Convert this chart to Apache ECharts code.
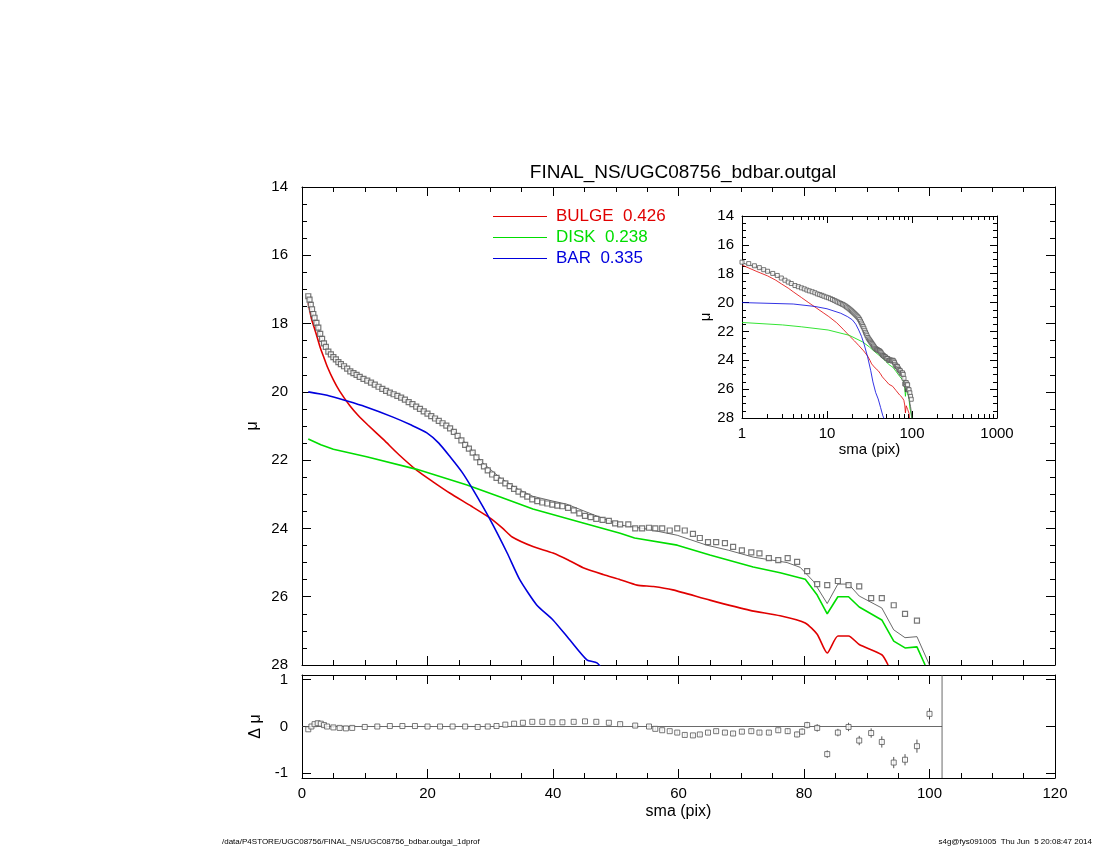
<!DOCTYPE html>
<html><head><meta charset="utf-8">
<script src="https://cdn.jsdelivr.net/npm/echarts@6/dist/echarts.min.js"></script>
<style>html,body{margin:0;padding:0;background:#fff}#c{width:1100px;height:850px}</style>
</head><body><div id="c"></div>
<script>
const dataPts = [[1.0,17.2],[1.2,17.3],[1.4,17.45],[1.6,17.58],[1.8,17.72],[2.0,17.83],[2.3,17.98],[2.6,18.12],[2.9,18.3],[3.2,18.45],[3.5,18.58],[3.8,18.68],[4.2,18.82],[4.6,18.9],[5.0,18.98],[5.4,19.05],[5.8,19.13],[6.2,19.19],[6.7,19.25],[7.2,19.32],[7.7,19.4],[8.2,19.45],[8.7,19.5],[9.2,19.56],[9.8,19.62],[10.4,19.67],[11.0,19.73],[11.6,19.79],[12.2,19.85],[12.8,19.91],[13.4,19.97],[14.0,20.02],[14.6,20.07],[15.2,20.12],[15.8,20.17],[16.4,20.23],[17.0,20.3],[17.6,20.36],[18.2,20.43],[18.8,20.5],[19.4,20.57],[20.0,20.64],[20.6,20.71],[21.2,20.78],[21.8,20.85],[22.4,20.92],[23.0,20.99],[23.6,21.07],[24.2,21.17],[24.8,21.29],[25.4,21.42],[26.0,21.55],[26.6,21.66],[27.2,21.78],[27.8,21.92],[28.4,22.06],[29.0,22.18],[29.6,22.3],[30.3,22.42],[31.0,22.52],[31.7,22.6],[32.4,22.68],[33.1,22.76],[33.8,22.84],[34.5,22.92],[35.2,23.0],[35.9,23.07],[36.7,23.15],[37.5,23.2],[38.3,23.24],[39.1,23.27],[39.9,23.3],[40.7,23.33],[41.5,23.35],[42.4,23.4],[43.3,23.47],[44.2,23.56],[45.1,23.63],[46.0,23.67],[46.9,23.72],[47.9,23.75],[48.9,23.78],[49.9,23.85],[50.7,23.88],[52.0,23.88],[53.1,24.0],[54.2,24.0],[55.3,23.98],[56.3,24.0],[57.4,24.0],[58.6,24.06],[59.8,24.0],[61.0,24.06],[62.3,24.16],[63.4,24.28],[64.7,24.4],[66.0,24.4],[67.4,24.43],[68.7,24.54],[70.1,24.64],[71.6,24.7],[72.9,24.73],[74.4,24.87],[75.9,24.93],[77.4,24.87],[78.9,24.98],[80.5,25.25],[82.1,25.63],[83.7,25.66],[85.4,25.54],[87.1,25.66],[88.8,25.7],[90.7,26.04],[92.4,26.04],[94.3,26.25],[96.1,26.5],[98.0,26.7]];
const modelLine = [[1.0,17.25],[1.5,17.55],[2.0,17.85],[2.9,18.3],[4.0,18.75],[5.0,18.98],[6.5,19.22],[8.0,19.43],[10.3,19.65],[13.0,19.93],[15.6,20.15],[18.0,20.41],[20.9,20.74],[23.6,21.04],[26.3,21.55],[28.8,22.08],[31.6,22.52],[34.3,22.84],[36.8,23.06],[40.0,23.2],[42.2,23.29],[45.9,23.56],[50.7,23.9],[55.0,24.02],[59.8,24.2],[64.5,24.49],[68.0,24.64],[71.9,24.84],[77.3,25.0],[79.4,25.14],[81.5,25.55],[83.7,26.2],[85.4,25.63],[87.1,25.63],[88.8,25.98],[92.4,26.33],[94.3,26.97],[96.1,27.2],[98.0,27.17],[100.0,28.0]];
const bulge = [[1.0,17.4],[1.5,17.85],[2.0,18.15],[2.5,18.45],[2.9,18.7],[3.5,19.0],[4.0,19.25],[5.0,19.65],[6.0,19.98],[7.6,20.4],[9.0,20.7],[10.5,20.97],[13.0,21.4],[15.5,21.85],[18.3,22.3],[21.0,22.65],[23.6,22.97],[27.0,23.35],[30.0,23.7],[32.0,24.0],[33.5,24.25],[36.8,24.53],[40.0,24.72],[42.5,24.93],[44.8,25.15],[48.0,25.35],[50.7,25.5],[53.4,25.66],[56.0,25.7],[59.1,25.8],[65.0,26.1],[71.4,26.4],[76.2,26.56],[80.2,26.77],[82.1,27.1],[83.7,27.65],[85.4,27.15],[87.1,27.15],[88.8,27.4],[92.4,27.7],[93.4,28.0]];
const disk = [[1.0,21.38],[3.0,21.55],[5.0,21.68],[10.3,21.9],[18.3,22.27],[26.3,22.73],[31.6,23.08],[36.8,23.43],[44.8,23.84],[50.7,24.14],[53.0,24.28],[59.8,24.49],[65.0,24.78],[71.9,25.13],[76.2,25.3],[80.2,25.49],[82.1,25.95],[83.7,26.5],[85.4,26.0],[87.1,26.0],[88.8,26.3],[92.4,26.68],[94.3,27.3],[96.1,27.5],[98.0,27.47],[99.3,28.0]];
const bar = [[1.0,20.0],[4.0,20.1],[7.2,20.27],[10.0,20.43],[14.5,20.74],[17.5,20.98],[19.9,21.2],[21.8,21.5],[23.6,21.9],[25.5,22.35],[27.3,22.88],[30.0,23.75],[32.7,24.72],[34.7,25.5],[37.4,26.24],[40.0,26.68],[42.7,27.27],[45.4,27.85],[47.0,27.94],[48.2,28.2]];
const resid = [[1.0,-0.06],[1.5,0.0],[2.0,0.05],[2.5,0.07],[3.0,0.06],[3.5,0.03],[4.0,0.0],[5.0,-0.02],[6.0,-0.03],[7.0,-0.04],[8.0,-0.03],[10.0,-0.01],[12.0,0.0],[14.0,0.01],[16.0,0.01],[18.0,0.01],[20.0,0.0],[22.0,0.0],[24.0,0.0],[26.0,0.0],[28.0,-0.01],[29.6,0.0],[31.0,0.01],[32.4,0.04],[33.8,0.06],[35.2,0.08],[36.7,0.1],[38.3,0.1],[39.9,0.09],[41.5,0.09],[43.3,0.1],[45.1,0.11],[46.9,0.1],[48.9,0.08],[50.7,0.05],[53.1,0.02],[55.3,0.0],[56.3,-0.05],[57.4,-0.08],[58.6,-0.1],[59.8,-0.13],[61.0,-0.18],[62.3,-0.19],[63.4,-0.17],[64.7,-0.13],[66.0,-0.1],[67.4,-0.13],[68.7,-0.15],[70.1,-0.11],[71.6,-0.1],[72.9,-0.13],[74.4,-0.13],[75.9,-0.08],[77.4,-0.1],[78.9,-0.17],[79.7,-0.11],[80.5,0.03],[82.1,-0.03],[83.7,-0.59],[85.4,-0.13],[87.1,-0.01],[88.8,-0.3],[90.7,-0.14],[92.4,-0.33],[94.3,-0.77],[96.1,-0.71],[98.0,-0.42],[100.0,0.27]];
const residErr = [0.01,0.01,0.01,0.01,0.01,0.01,0.01,0.01,0.01,0.01,0.01,0.01,0.01,0.01,0.01,0.01,0.01,0.01,0.01,0.01,0.01,0.01,0.01,0.02,0.02,0.02,0.02,0.02,0.02,0.02,0.02,0.02,0.02,0.02,0.03,0.03,0.03,0.03,0.03,0.03,0.04,0.04,0.04,0.04,0.04,0.04,0.04,0.05,0.05,0.05,0.05,0.05,0.05,0.06,0.06,0.07,0.07,0.08,0.08,0.08,0.09,0.1,0.1,0.12,0.12,0.12,0.14,0.12];
const titleText = 'FINAL_NS/UGC08756_bdbar.outgal';
const legendNames = ['BULGE  0.426','DISK  0.238','BAR  0.335'];

const axC = '#000';
const font='Liberation Sans';
function ax(extra){
  const base={axisLine:{show:true,onZero:false,lineStyle:{color:axC,width:1}},axisTick:{inside:true,length:9,lineStyle:{color:axC}},minorTick:{show:true,splitNumber:4,length:5,lineStyle:{color:axC}},splitLine:{show:false},axisLabel:{color:'#000',fontSize:15,fontFamily:font}};
  const o=Object.assign(base,extra);
  o.axisTick=Object.assign({inside:true,length:9,lineStyle:{color:axC}},extra.axisTick||{});
  return o;
}
const noLab = {show:false};
const chart = echarts.init(document.getElementById('c'));
chart.setOption({
  animation:false,
  title:{text:titleText,left:678,top:158,textAlign:'center',textStyle:{fontSize:19,fontWeight:'normal',color:'#000',fontFamily:font}},
  legend:{left:488,top:203,orient:'vertical',itemGap:4,itemWidth:54,itemHeight:14,icon:'path://M0,7L54,7L54,8L0,8Z',
    data:[{name:legendNames[0],textStyle:{color:'#e00000'}},{name:legendNames[1],textStyle:{color:'#00dd00'}},{name:legendNames[2],textStyle:{color:'#0000dd'}}],
    textStyle:{fontSize:17,fontFamily:font,padding:[0,0,0,4]}},
  graphic:[
    {type:'text',left:222,top:838,style:{text:'/data/P4STORE/UGC08756/FINAL_NS/UGC08756_bdbar.outgal_1dprof',fontSize:8,fontFamily:font,fill:'#000'}},
    {type:'text',right:8,top:838,style:{text:'s4g@fys091005  Thu Jun  5 20:08:47 2014',fontSize:8,fontFamily:font,fill:'#000'}}
  ],
  grid:[
    {left:302,right:45,top:187,height:478},
    {left:302,right:45,top:675,height:103},
    {left:742,right:103,top:216,height:202}
  ],
  xAxis:[
    ax({gridIndex:0,type:'value',min:0,max:120,interval:20,axisLabel:noLab}),
    ax({gridIndex:0,type:'value',min:0,max:120,interval:20,position:'top',axisLabel:noLab}),
    ax({gridIndex:1,type:'value',min:0,max:120,interval:20,name:'sma (pix)',nameLocation:'middle',nameGap:26,nameTextStyle:{fontSize:16,fontFamily:font,color:'#000'}}),
    ax({gridIndex:1,type:'value',min:0,max:120,interval:20,position:'top',axisLabel:noLab}),
    ax({gridIndex:2,type:'log',min:1,max:1000,logBase:10,name:'sma (pix)',nameLocation:'middle',nameGap:24,nameTextStyle:{fontSize:15,fontFamily:font,color:'#000'},axisTick:{length:7},minorTick:{show:true,splitNumber:9,length:4,lineStyle:{color:axC}},axisLabel:{fontSize:15,fontFamily:font,color:'#000',formatter:v=>String(Math.round(v))}}),
    ax({gridIndex:2,type:'log',min:1,max:1000,logBase:10,position:'top',axisLabel:noLab,axisTick:{length:7},minorTick:{show:true,splitNumber:9,length:4,lineStyle:{color:axC}}})
  ],
  yAxis:[
    ax({gridIndex:0,type:'value',min:14,max:28,interval:2,inverse:true,name:'μ',nameLocation:'middle',nameGap:38,nameRotate:90,nameTextStyle:{fontSize:16,fontFamily:font,color:'#000'},axisLabel:{margin:14,fontSize:15,fontFamily:font,color:'#000'}}),
    ax({gridIndex:0,type:'value',min:14,max:28,interval:2,inverse:true,position:'right',axisLabel:noLab}),
    ax({gridIndex:1,type:'value',min:-1.1,max:1.1,axisTick:{customValues:[-1,0,1]},minorTick:{show:false},axisLabel:{customValues:[-1,0,1],margin:14,fontSize:15,fontFamily:font,color:'#000'},name:'Δ μ',nameLocation:'middle',nameGap:34,nameRotate:90,nameTextStyle:{fontSize:16,fontFamily:font,color:'#000'}}),
    ax({gridIndex:1,type:'value',min:-1.1,max:1.1,position:'right',axisLabel:noLab,axisTick:{customValues:[-1,0,1]},minorTick:{show:false}}),
    ax({gridIndex:2,type:'value',min:14,max:28,interval:2,inverse:true,name:'μ',nameLocation:'middle',nameGap:26,nameRotate:90,nameTextStyle:{fontSize:15,fontFamily:font,color:'#000'},minorTick:{show:true,splitNumber:4,length:4,lineStyle:{color:axC}},axisTick:{length:7},axisLabel:{margin:8,fontSize:15,fontFamily:font,color:'#000'}}),
    ax({gridIndex:2,type:'value',min:14,max:28,interval:2,inverse:true,position:'right',axisLabel:noLab,minorTick:{show:true,splitNumber:4,length:4,lineStyle:{color:axC}},axisTick:{length:7}})
  ],
  series:[
    {type:'line',name:legendNames[0],xAxisIndex:0,yAxisIndex:0,data:bulge,showSymbol:false,smooth:0.2,lineStyle:{color:'#e00000',width:1.6},itemStyle:{color:'#e00000'},clip:true,z:3},
    {type:'line',name:legendNames[1],xAxisIndex:0,yAxisIndex:0,data:disk,showSymbol:false,lineStyle:{color:'#00dd00',width:1.6},itemStyle:{color:'#00dd00'},clip:true,z:3},
    {type:'line',name:legendNames[2],xAxisIndex:0,yAxisIndex:0,data:bar,showSymbol:false,smooth:0.2,lineStyle:{color:'#0000dd',width:1.6},itemStyle:{color:'#0000dd'},clip:true,z:3},
    {type:'line',name:'model',xAxisIndex:0,yAxisIndex:0,data:modelLine,showSymbol:false,lineStyle:{color:'#444',width:0.8},clip:true,z:4},
    {type:'scatter',name:'data',xAxisIndex:0,yAxisIndex:0,data:dataPts,symbol:'rect',symbolSize:5,itemStyle:{color:'#fff',borderColor:'#555',borderWidth:1.2},z:5},
    {type:'custom',name:'err',xAxisIndex:2,yAxisIndex:2,data:resid.map((p,i)=>[p[0],p[1],residErr[i]]),
      renderItem:function(params,api){const x=api.value(0),y=api.value(1),e=api.value(2);const a=api.coord([x,y-e]),b=api.coord([x,y+e]);return {type:'line',shape:{x1:a[0],y1:a[1],x2:b[0],y2:b[1]},style:{stroke:'#555',lineWidth:1}};},z:4},
    {type:'line',name:'zero',xAxisIndex:2,yAxisIndex:2,data:[[0,0],[102,0]],showSymbol:false,lineStyle:{color:'#444',width:0.8},z:3},
    {type:'line',name:'vline',xAxisIndex:2,yAxisIndex:2,data:[[102,-1.1],[102,1.1]],showSymbol:false,lineStyle:{color:'#444',width:0.8},z:3},
    {type:'scatter',name:'resid',xAxisIndex:2,yAxisIndex:2,data:resid,symbol:'rect',symbolSize:5,itemStyle:{color:'#fff',borderColor:'#555',borderWidth:1},z:5},
    {type:'line',name:'i_bulge',xAxisIndex:4,yAxisIndex:4,data:bulge,showSymbol:false,lineStyle:{color:'#e00000',width:0.8},clip:true,z:3},
    {type:'line',name:'i_disk',xAxisIndex:4,yAxisIndex:4,data:disk,showSymbol:false,lineStyle:{color:'#00dd00',width:0.8},clip:true,z:3},
    {type:'line',name:'i_bar',xAxisIndex:4,yAxisIndex:4,data:bar,showSymbol:false,lineStyle:{color:'#0000dd',width:0.8},clip:true,z:3},
    {type:'line',name:'i_model',xAxisIndex:4,yAxisIndex:4,data:modelLine,showSymbol:false,lineStyle:{color:'#444',width:0.8},clip:true,z:4},
    {type:'scatter',name:'i_data',xAxisIndex:4,yAxisIndex:4,data:dataPts,symbol:'rect',symbolSize:4,itemStyle:{color:'#fff',borderColor:'#555',borderWidth:1},z:5}
  ]
});
</script></body></html>
